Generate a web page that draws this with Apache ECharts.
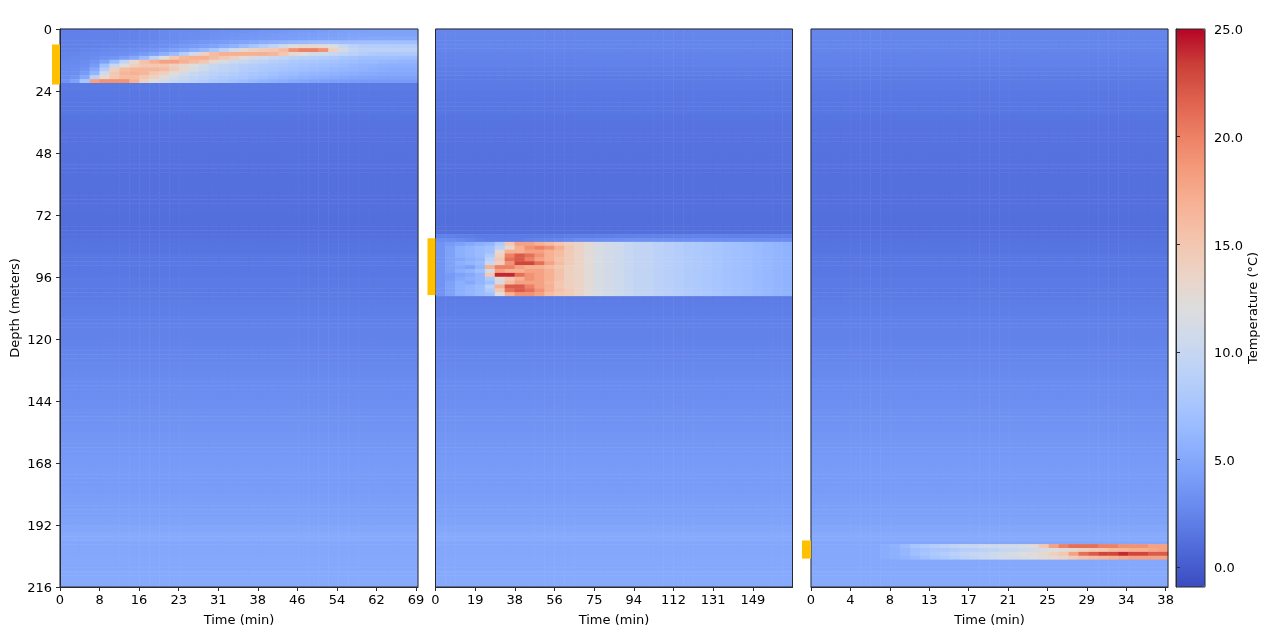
<!DOCTYPE html>
<html><head><meta charset="utf-8">
<style>html,body{margin:0;padding:0;background:#fff}#c{width:1269px;height:636px}</style>
<script src="https://cdn.jsdelivr.net/npm/echarts@6/dist/echarts.min.js"></script>
</head><body><div id="c"></div>
<script>
// Depth profile: one value every 3 m (0..213 m), degrees C
const backgroundProfile=[2.6,2.5,2.5,2.4,2.3,2.1,1.9,1.8,1.7,1.6,1.6,1.5,1.4,1.4,1.3,1.3,1.3,1.3,1.2,1.2,1.2,1.2,1.2,1.2,1.1,1.1,1.2,1.4,1.5,1.6,1.7,1.7,1.8,1.8,1.9,2.0,2.1,2.2,2.3,2.3,2.4,2.5,2.6,2.7,2.8,2.9,3.0,3.1,3.2,3.3,3.4,3.5,3.6,3.7,3.8,3.9,4.0,4.1,4.0,4.1,4.2,4.3,4.4,4.6,4.9,5.1,4.9,4.9,5.0,5.0,5.1,5.1];

// Panel 1: rows start at 0 m, 1.5 m apart, 36 time columns
const plumeA=[
[2.2,2.2,2.2,2.3,2.3,2.3,2.4,2.4,2.5,2.6,2.8,2.9,3,3,3.1,3.2,3.3,3.3,3.4,3.5,3.6,3.7,3.8,3.9,4,4,4.1,4.2,4.3,4.4,4.4,4.5,4.5,4.5,4.5,4.5],
[2.2,2.2,2.2,2.3,2.3,2.3,2.4,2.4,2.5,2.6,2.8,2.9,3,3,3.1,3.3,3.4,3.5,3.6,3.7,3.8,3.9,4,4.1,4.2,4.2,4.3,4.4,4.5,4.6,4.6,4.6,4.6,4.6,4.6,4.6],
[2.2,2.2,2.2,2.3,2.3,2.3,2.4,2.4,2.5,2.6,2.8,2.9,3,3.1,3.2,3.4,3.5,3.6,3.7,3.8,3.9,4,4.1,4.2,4.3,4.4,4.5,4.6,4.7,4.8,4.9,5,5,5,5,5],
[2.3,2.3,2.3,2.3,2.4,2.4,2.5,2.5,2.6,2.8,3,3.1,3.3,3.5,3.7,3.9,4.1,4.4,4.7,5,5.3,5.6,5.9,6.2,6.4,6.6,6.8,6.8,6.8,6.8,6.9,7,7,7,7,7],
[2.3,2.3,2.3,2.4,2.4,2.5,2.6,2.7,2.8,3,3.2,3.5,3.8,4,4.3,4.7,5.2,5.7,6.5,7.5,8.5,9.5,11,12,13,13,12.5,12,10,9,8.5,8.5,8.5,8.5,8.5,8.5],
[2.4,2.4,2.5,2.6,2.7,2.8,2.9,3,3.2,3.5,3.9,4.3,4.8,5.5,6.3,7.5,9,11,13,14,14.5,15,16,19,20,20,19,14,11,9.5,9,9,9,9,9,9],
[2.5,2.6,2.7,2.8,2.9,3,3.2,3.5,3.9,4.5,5.5,6.5,8.5,11,14,16,17,17,17,17,17,16.5,15,13,12,11,10.5,10,9.5,9,8.5,8.2,8,8,8,8],
[2.6,2.7,2.8,3,3.3,3.6,4.2,5,6.5,9,12,15,16.5,17,17,16,15,14,12.5,11,10.5,10,9.5,9,8.8,8.6,8.4,8,7.5,7.3,7,7,7,7,6.8,6.8],
[2.7,2.8,3,3.5,4.5,6.5,9.5,13,15.5,17,18,18,17,16,15,13,11.5,10.5,10,9.5,9,8.6,8.3,8,7.8,7.6,7.4,7.2,7,6.8,6.5,6.5,6.3,6.2,6,6],
[2.8,2.9,3.2,4,7,10,12,14,15,15,15,14,13,12,11,10,9.5,9.2,8.8,8.5,8.2,8,7.8,7.5,7.3,7.1,6.9,6.8,6.5,6.3,6,5.8,5.6,5.5,5.5,5.5],
[2.8,3,3.5,5,8.5,14,16,16.5,16.5,16.5,16,14.5,13,11.5,10.5,9.8,9.3,9,8.5,8.2,7.9,7.6,7.3,7.1,6.9,6.7,6.5,6.3,6.1,5.9,5.7,5.5,5.3,5.2,5.2,5.2],
[2.9,3.1,4,6,11,15,16.5,17,16.5,15,14,12.5,11,10,9.5,9,8.7,8.3,8,7.7,7.4,7.1,6.8,6.6,6.3,6.1,5.9,5.7,5.5,5.3,5.2,5.1,5,5,5,5],
[3,3.5,5,9,13,15,16,16,15,14,12.5,11,10,9.5,9,8.6,8.2,7.9,7.6,7.2,6.9,6.6,6.3,6,5.7,5.5,5.3,5.1,5,4.8,4.7,4.6,4.5,4.5,4.5,4.5],
[3.5,4.5,7.5,18,19,19,19,17,14,12,11,10,9.5,9,8.5,8,7.6,7.2,6.8,6.4,6,5.7,5.4,5.1,4.9,4.7,4.5,4.3,4.2,4.1,4,4,4,4,4,4]
];
const plumeAStartRow=0;

// Panel 2: rows start at 79.5 m
const plumeBTail=[13.5,12.5,11.5,11,10.5,10,9.5,9.5,9,8.8,8.5,8.2,8,7.8,7.5,7.2,7,6.8,6.5,6.3,6,5.8];
const plumeBAbove1=[2.2,2.2,2,2,1.8,1.8,1.8,1.8,1.8,1.8,1.8,1.9,1.9,2,2,2,2.1,2.1,2.2,2.2,2.3,2.3,2.3,2.3,2.3,2.3,2.3,2.3,2.3,2.2,2.2,2.2,2.2,2.2,2.2,2.2];
const plumeBAbove2=[3,3,2.8,2.5,2.2,2,2,2,2,2.2,2.4,2.5,2.6,2.8,3,3,3.1,3.2,3.2,3.3,3.3,3.3,3.3,3.3,3.2,3.2,3.2,3.2,3.2,3.1,3.1,3.1,3,3,3,3];
const plumeBHead=[
[3.5,4,4.5,5,5.5,6,8,15,18,18,17,16,15,14],
[3.5,4.5,5.5,6,6.5,7,9,13,17,19,20,19,17,15],
[3.5,4.5,5.5,6,6.5,7,13,17,17,18,18,17,16,14.5],
[3.5,4.5,5.5,6,6.5,8,14,20,22,21,19,17,16,14.5],
[3.5,4.5,5,5.5,6,9,15,21,22,20,18,17,15.5,14.5],
[3.5,4.5,5.5,6,6.5,10,14,19,23,23,21,18,16,14.5],
[3.5,4.5,5,4.5,6,17,20,20,18,17,17,16,15,14],
[3.5,4.5,5.5,6,7,11,18,17,17,18,18,17,15.5,14],
[3.5,4,4.5,5,6,15,24,24,21,19,18,17,15.5,14],
[3.5,4,5,5.5,6,8,13,15,17,19,18,17,15.5,14],
[3.5,4.5,5.5,5,6,7,11,16,18,18,18,16.5,15,14],
[3.5,4.5,5.5,6,6.5,9,17,22,22,20,18,17,15,14],
[3.5,4.5,5.5,6,6.5,8,15,21,22,21,19,17,15.5,14.5],
[3.5,4.5,5.5,6,6.5,7,12,17,19,19,18,16,15,14.5]
];
const plumeBStartRow=53;

// Panel 3: rows start at 199.5 m
const plumeC=[
[5,5,5,5,5,5,5,5.3,5.7,6.5,7.5,8,8.5,9,9.5,10,10,10.5,10.5,11,11,11.5,12.5,15,18,20,21,21,21,20,20,19,19,19,18,18],
[5,5,5,5,5,5,5,5.3,5.6,6.2,6.8,7.2,7.6,7.8,8.2,8.6,8.8,9.2,9.4,9.8,10,10.5,11,11.5,12,12.5,13,14,14.5,15,16,16.5,17,17,17.5,18],
[5,5,5,5,5,5,5,5.3,5.6,6.2,7,7.5,8,8.5,9,9.5,9.8,10,10.5,11,11.5,12,12.5,13,14,15,18,21,22,23,23,24,23,23,22,22],
[5,5,5,5,5,5,5,5.3,5.5,5.9,6.4,7,7.5,8,8.5,9,9.5,10,10.5,11,11,11.5,12,12.5,13,13.5,14.5,15.5,16,16.5,17,17.5,18,18,18,18]
];
const plumeCStartRow=133;

// Axis tick labels
const timeLabelsA=['0','8','16','23','31','38','46','54','62','69'];
const timeLabelsB=['0','19','38','56','75','94','112','131','149'];
const timeLabelsC=['0','4','8','13','17','21','25','29','34','38'];
const depthTicks=[0,24,48,72,96,120,144,168,192,216];
const colorbarTicks=[0,5,10,15,20,25];
// Injection depth intervals (orange markers), metres
const injectionDepths=[[6,21.5],[81,103],[198,205]];

const tempMin=-0.93,tempMax=25;
const coolwarm=['#3b4cc0','#4d68d7','#6282ea','#779af7','#8db0fe','#a3c2ff','#b8d0f9','#ccd9ee','#dddddd','#ecd3c5','#f4c4ad','#f7b194','#f49a7b','#ec7f63','#de604d','#cb3e38','#b40426'];

const rowCount=144,colCount=36;
const rowsB=[plumeBAbove1,plumeBAbove2].concat(plumeBHead.map(h=>h.concat(plumeBTail)));
function cells(plume,start){
  const out=[];
  for(let r=0;r<rowCount;r++){
    const p=plume[r-start];
    for(let c=0;c<colCount;c++){
      out.push([c,r,p?p[c]:backgroundProfile[Math.floor(r/2)]]);
    }
  }
  return out;
}
const colNames=Array.from({length:colCount},(_,i)=>String(i));
const rowNames=Array.from({length:rowCount},(_,i)=>String(i));

const font='DejaVu Sans',fs=13,ink='#000',edge='#2a2a2a';
const gridTop=29,gridHeight=558;
const shifted={a:{padding:[4,0,0,0],fontFamily:font,fontSize:fs,color:ink}};
const panels=[
 {left:60,width:358,labels:timeLabelsA,max:9.05,plume:plumeA,start:plumeAStartRow,mark:8},
 {left:435.5,width:357,labels:timeLabelsB,max:9.0,plume:rowsB,start:plumeBStartRow,mark:8},
 {left:811,width:357,labels:timeLabelsC,max:9.06,plume:plumeC,start:plumeCStartRow,mark:9}
];

const grid=[],xAxis=[],yAxis=[],series=[];
panels.forEach((p,k)=>{
  grid.push({left:p.left,top:gridTop,width:p.width,height:gridHeight,show:true,z:10,
    backgroundColor:'transparent',borderColor:edge,borderWidth:1});
  xAxis.push({type:'category',gridIndex:k,data:colNames,show:false});
  yAxis.push({type:'category',gridIndex:k,data:rowNames,show:false,inverse:true});
});
panels.forEach((p,k)=>{
  const idx=p.labels.map((_,i)=>i);
  xAxis.push({type:'value',gridIndex:k,position:'bottom',min:0,max:p.max,z:11,
    name:'Time (min)',nameLocation:'middle',nameGap:27,
    nameTextStyle:{fontFamily:font,fontSize:fs,color:ink},
    splitLine:{show:false},
    axisLine:{show:true,onZero:false,lineStyle:{color:edge,width:1}},
    axisTick:{show:true,length:4,customValues:idx,lineStyle:{color:edge,width:1}},
    axisLabel:{show:true,customValues:idx,margin:7,hideOverlap:false,fontFamily:font,fontSize:fs,color:ink,
      formatter:v=>p.labels[v]}});
  yAxis.push({type:'value',gridIndex:k,inverse:true,min:0,max:216,position:'left',z:11,
    name:k===0?'Depth (meters)':'',nameLocation:'middle',nameGap:38,nameRotate:90,
    nameTextStyle:{fontFamily:font,fontSize:fs,color:ink},
    splitLine:{show:false},
    axisLine:{show:k===0,onZero:false,lineStyle:{color:edge,width:1}},
    axisTick:{show:k===0,length:4,customValues:depthTicks,lineStyle:{color:edge,width:1}},
    axisLabel:{show:k===0,customValues:depthTicks,margin:8,rich:shifted,fontFamily:font,fontSize:fs,color:ink,
      formatter:v=>'{a|'+v+'}'}});
  series.push({type:'heatmap',xAxisIndex:k,yAxisIndex:k,data:cells(p.plume,p.start),
    progressive:0,silent:true,emphasis:{disabled:true},itemStyle:{borderWidth:0}});
});
panels.forEach((p,k)=>{
  series.push({type:'custom',xAxisIndex:k+3,yAxisIndex:k+3,silent:true,clip:false,z:12,
    data:[[0,injectionDepths[k][0],injectionDepths[k][1]]],
    encode:{x:0,y:[1,2]},
    renderItem:(params,api)=>{
      const a=api.coord([0,api.value(1)]),b=api.coord([0,api.value(2)]);
      return {type:'rect',shape:{x:a[0]-p.mark,y:a[1],width:p.mark,height:b[1]-a[1]},style:{fill:'#ffc000'}};
    }});
});
// colour bar frame and axis
grid.push({left:1176,top:gridTop,width:29,height:gridHeight,show:true,z:10,
  backgroundColor:'transparent',borderColor:edge,borderWidth:1});
xAxis.push({type:'value',gridIndex:3,show:false,min:0,max:1});
yAxis.push({type:'value',gridIndex:3,position:'right',min:tempMin,max:tempMax,z:11,
  name:'Temperature (°C)',nameLocation:'middle',nameGap:42,nameRotate:90,
  nameTextStyle:{fontFamily:font,fontSize:fs,color:ink},
  splitLine:{show:false},
  axisLine:{show:true,lineStyle:{color:edge,width:1}},
  axisTick:{show:true,length:4,customValues:colorbarTicks,lineStyle:{color:edge,width:1}},
  axisLabel:{show:true,customValues:colorbarTicks,margin:9,rich:shifted,fontFamily:font,fontSize:fs,color:ink,
    formatter:v=>'{a|'+v.toFixed(1)+'}'}});

const chart=echarts.init(document.getElementById('c'),null,{renderer:'canvas'});
chart.setOption({
  animation:false,backgroundColor:'#fff',
  textStyle:{fontFamily:font},
  grid,xAxis,yAxis,series,
  visualMap:{type:'continuous',min:tempMin,max:tempMax,seriesIndex:[0,1,2],dimension:2,
    calculable:false,hoverLink:false,realtime:false,show:true,
    left:1176,top:gridTop,itemWidth:29,itemHeight:gridHeight,text:null,showLabel:false,
    padding:0,inRange:{color:coolwarm},textStyle:{color:'transparent',fontSize:1}}
});
</script>
</body></html>
